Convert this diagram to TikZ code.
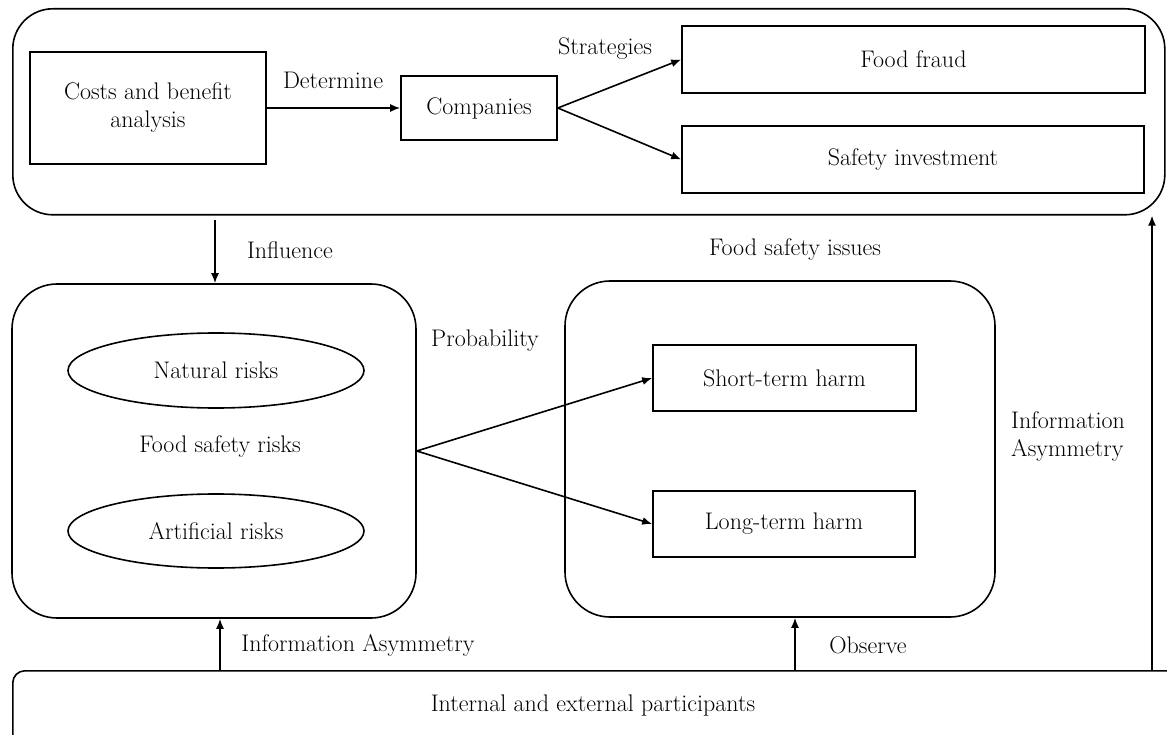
\documentclass[tikz,border=0pt]{standalone}
\usetikzlibrary{arrows.meta,shapes.geometric}
\begin{document}
\begin{tikzpicture}[x=1pt,y=-1pt,
  lw/.style={line width=1.6pt},
  arr/.style={lw,-{Latex[length=10pt,width=8pt]}},
  lbl/.style={inner sep=0pt},
  every node/.style={font=\fontsize{24}{28}\selectfont}]
\useasboundingbox (0,0) rectangle (1167,735);
% groups
\node[draw,lw,rounded corners=40pt,minimum width=1152pt,minimum height=206pt,inner sep=0pt,anchor=north west] (top) at (12,8) {};
\node[draw,lw,rounded corners=45pt,minimum width=404pt,minimum height=334pt,inner sep=0pt] (risk) at (214,451) {};
\node[draw,lw,rounded corners=45pt,minimum width=430pt,minimum height=336pt,inner sep=0pt] (issue) at (780,449) {};
\node[draw,lw,rounded corners=12pt,minimum width=1170pt,minimum height=80pt,inner sep=0pt,anchor=north west] (part) at (12,670) {};
\node[lbl] at (593,706) {Internal and external participants};
% top boxes
\node[draw,lw,minimum width=236pt,minimum height=112pt,align=center,inner sep=0pt] (cost) at (148,108) {Costs and benefit\\analysis};
\node[draw,lw,minimum width=156pt,minimum height=64pt,inner sep=0pt] (comp) at (479,108) {Companies};
\node[draw,lw,minimum width=463pt,minimum height=67pt,inner sep=0pt] (fraud) at (913.5,59.5) {Food fraud};
\node[draw,lw,minimum width=462pt,minimum height=67pt,inner sep=0pt] (safe) at (913,159.5) {Safety investment};
\draw[arr] (cost.east) -- (comp.west);
\node[lbl] at (333,80) {Determine};
\node[lbl] at (605,49) {Strategies};
\draw[arr] (comp.east) -- (fraud.west);
\draw[arr] (comp.east) -- (safe.west);
% influence
\draw[arr] (top.south -| 215,0) ++(0,4) -- (risk.north -| 215,0);
\node[lbl] at (290,250) {Influence};
% risks
\node[draw,lw,ellipse,minimum width=296pt,minimum height=75pt,inner sep=0pt] (nat) at (216,370.5) {Natural risks};
\node[lbl] at (220,447) {Food safety risks};
\node[draw,lw,ellipse,minimum width=296pt,minimum height=74pt,inner sep=0pt] (art) at (216,531) {Artificial risks};
\node[lbl] at (485,341) {Probability};
\node[lbl] at (795,250) {Food safety issues};
\node[draw,lw,minimum width=263pt,minimum height=66pt,inner sep=0pt] (short) at (784.5,378) {Short-term harm};
\node[draw,lw,minimum width=262pt,minimum height=66pt,inner sep=0pt] (long) at (784,524) {Long-term harm};
\draw[arr] (risk.east) -- (short.west);
\draw[arr] (risk.east) -- (long.west);
% bottom arrows
\draw[arr] (part.north -| 220,0) -- (risk.south -| 220,0);
\node[lbl] at (358,645) {Information Asymmetry};
\draw[arr] (part.north -| 795,0) -- (issue.south -| 795,0);
\node[lbl] at (868,645) {Observe};
\draw[arr] (part.north -| 1152,0) -- (top.south -| 1152,0);
\node[lbl,align=left,anchor=west] at (1011,437) {Information\\Asymmetry};
\end{tikzpicture}
\end{document}
